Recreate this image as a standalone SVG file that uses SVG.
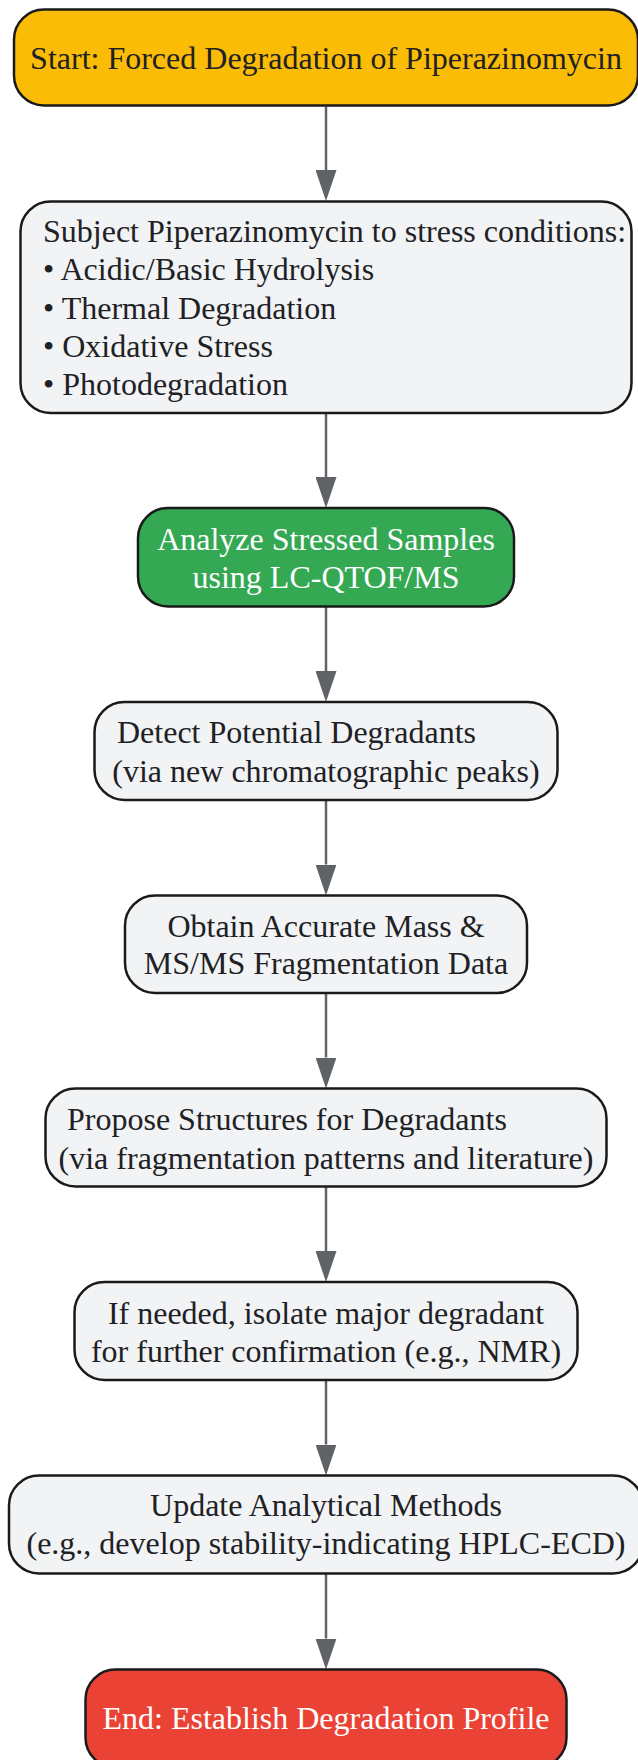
<svg xmlns="http://www.w3.org/2000/svg" width="638" height="1760" viewBox="0 0 638 1760">
<style>
.n{stroke:#1a1a1a;stroke-width:2.5}
.g{fill:#f1f3f4}
.t{font-family:"Liberation Serif","Times New Roman",serif;font-size:32px;fill:#202124}
.w{fill:#ffffff}
.c{text-anchor:middle}
.e{stroke:#5f6368;stroke-width:2.5;fill:none}
</style>
<defs>
<marker id="ah" markerUnits="userSpaceOnUse" markerWidth="31" markerHeight="21" viewBox="0 0 31 21" refX="0" refY="10.5" orient="auto">
<path d="M0,0 L31,10.5 L0,21 z" fill="#5f6368"/>
</marker>
</defs>
<rect width="638" height="1760" fill="#ffffff"/>
<g id="edges">
<line class="e" x1="326" y1="106.5" x2="326" y2="170" marker-end="url(#ah)"/>
<line class="e" x1="326" y1="413" x2="326" y2="477" marker-end="url(#ah)"/>
<line class="e" x1="326" y1="606.5" x2="326" y2="671" marker-end="url(#ah)"/>
<line class="e" x1="326" y1="800" x2="326" y2="864.5" marker-end="url(#ah)"/>
<line class="e" x1="326" y1="993" x2="326" y2="1057.5" marker-end="url(#ah)"/>
<line class="e" x1="326" y1="1186.5" x2="326" y2="1251" marker-end="url(#ah)"/>
<line class="e" x1="326" y1="1380" x2="326" y2="1444.5" marker-end="url(#ah)"/>
<line class="e" x1="326" y1="1573.5" x2="326" y2="1638.5" marker-end="url(#ah)"/>
</g>
<g id="start">
<rect class="n" x="14" y="9.5" width="624" height="96" rx="30" fill="#fbbc05"/>
<text class="t c" x="326" y="68.5">Start: Forced Degradation of Piperazinomycin</text>
</g>
<g id="stress">
<rect class="n g" x="20.5" y="201.5" width="611" height="211.5" rx="30"/>
<text class="t" x="43" y="242">Subject Piperazinomycin to stress conditions:</text>
<text class="t" x="43" y="280.3">• Acidic/Basic Hydrolysis</text>
<text class="t" x="43" y="318.6">• Thermal Degradation</text>
<text class="t" x="43" y="356.9">• Oxidative Stress</text>
<text class="t" x="43" y="395.2">• Photodegradation</text>
</g>
<g id="analyze">
<rect class="n" x="138" y="508" width="376" height="98.5" rx="30" fill="#34a853"/>
<text class="t c w" x="326" y="549.5">Analyze Stressed Samples</text>
<text class="t c w" x="326" y="587.5">using LC-QTOF/MS</text>
</g>
<g id="detect">
<rect class="n g" x="94.5" y="702" width="463" height="98" rx="30"/>
<text class="t" x="117" y="743">Detect Potential Degradants</text>
<text class="t c" x="326" y="781.5">(via new chromatographic peaks)</text>
</g>
<g id="obtain">
<rect class="n g" x="125" y="895.5" width="402" height="97.5" rx="30"/>
<text class="t c" x="326" y="936.5">Obtain Accurate Mass &amp;</text>
<text class="t c" x="326" y="974">MS/MS Fragmentation Data</text>
</g>
<g id="propose">
<rect class="n g" x="45.5" y="1088.5" width="561" height="98" rx="30"/>
<text class="t" x="67" y="1130">Propose Structures for Degradants</text>
<text class="t c" x="326" y="1168.5">(via fragmentation patterns and literature)</text>
</g>
<g id="isolate">
<rect class="n g" x="74.5" y="1282" width="503" height="98" rx="30"/>
<text class="t c" x="326" y="1323.5">If needed, isolate major degradant</text>
<text class="t c" x="326" y="1361.5">for further confirmation (e.g., NMR)</text>
</g>
<g id="update">
<rect class="n g" x="9" y="1475.5" width="634" height="98" rx="30"/>
<text class="t c" x="326" y="1516">Update Analytical Methods</text>
<text class="t c" x="326" y="1554">(e.g., develop stability-indicating HPLC-ECD)</text>
</g>
<g id="end">
<rect class="n" x="85.5" y="1669.5" width="481" height="98" rx="30" fill="#ea4335"/>
<text class="t c w" x="326" y="1728.5">End: Establish Degradation Profile</text>
</g>
</svg>
